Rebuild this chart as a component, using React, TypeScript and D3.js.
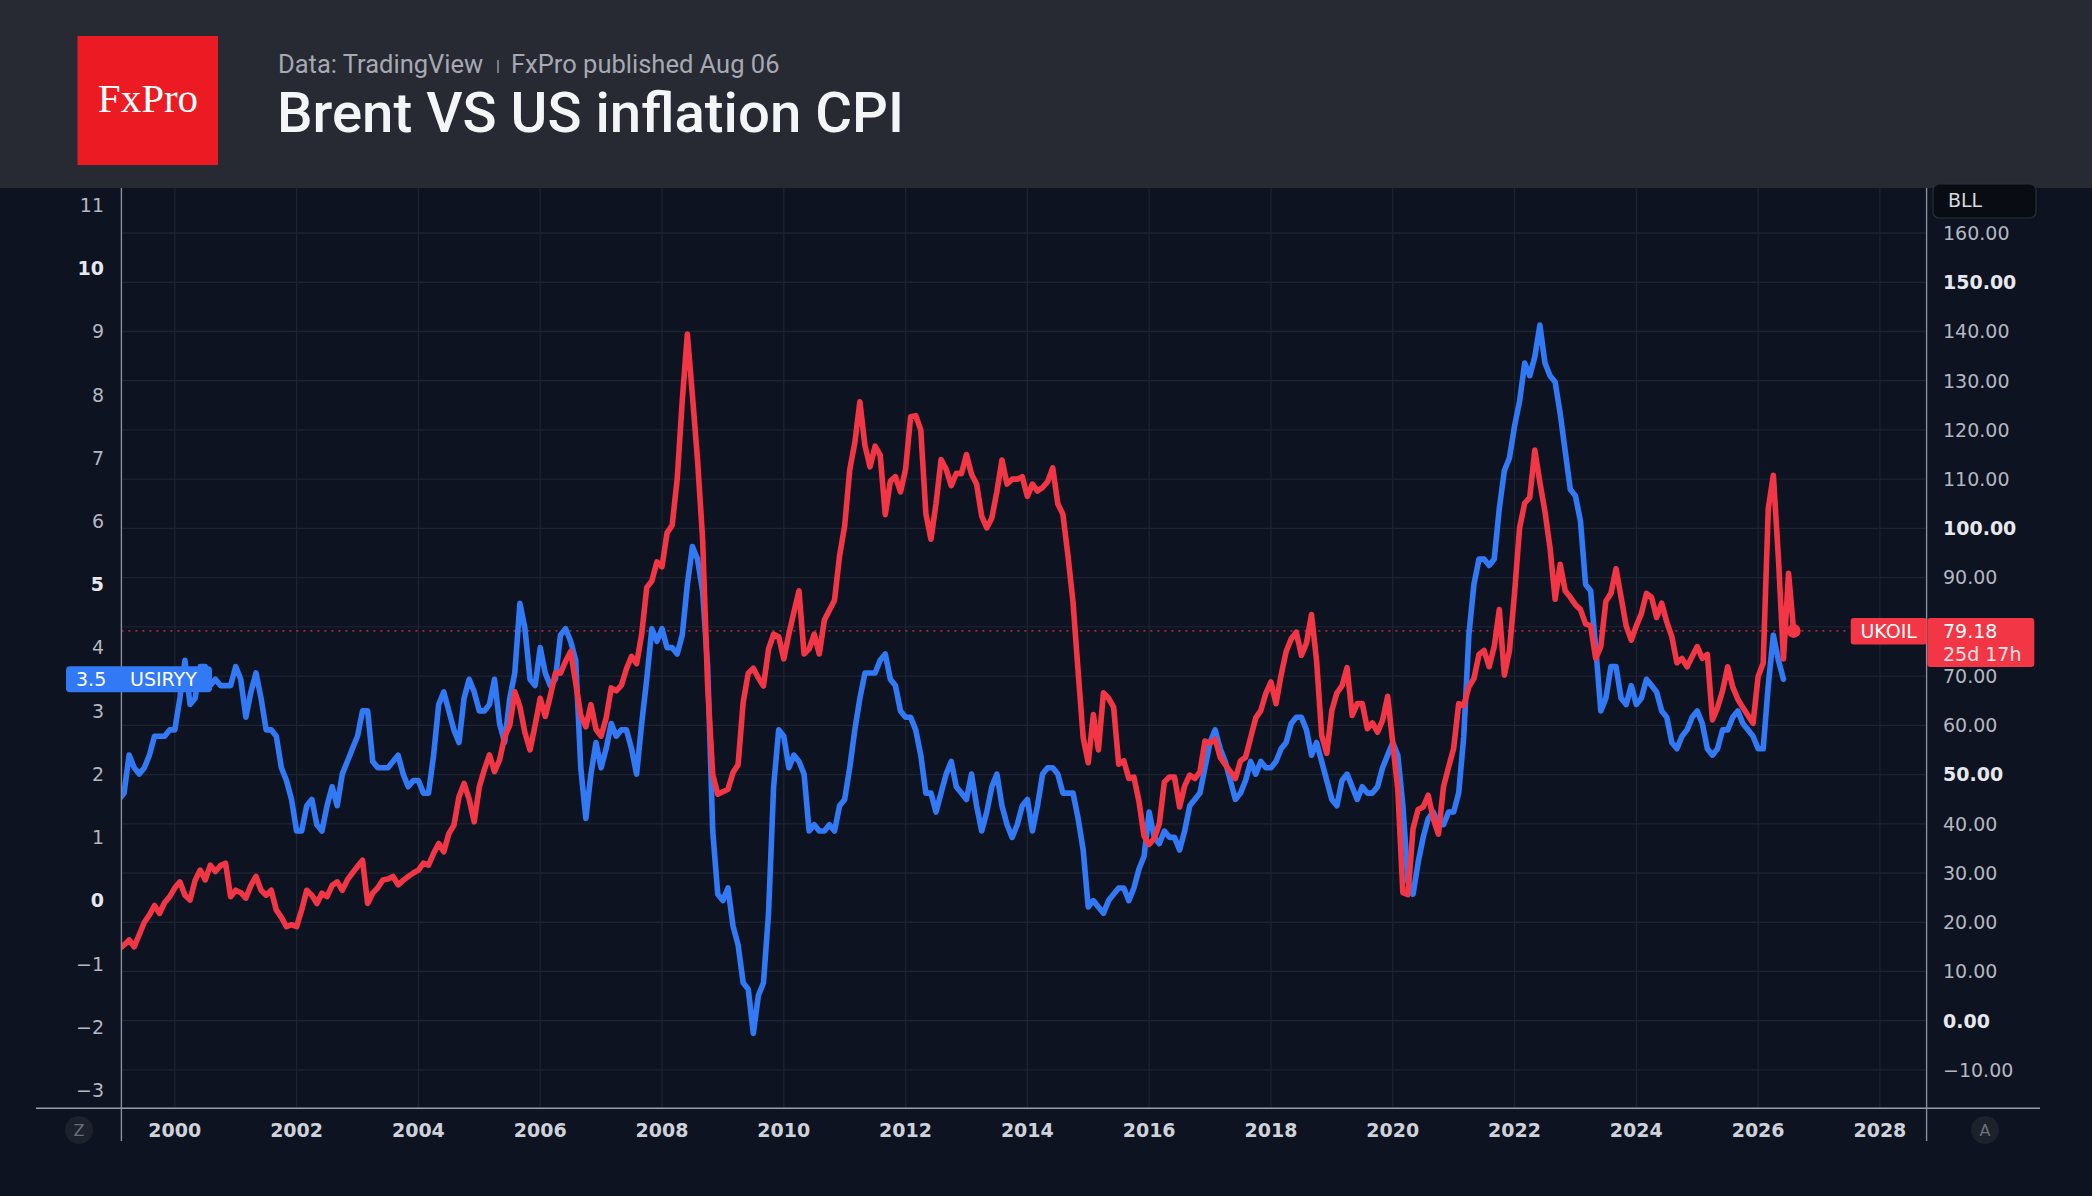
import React from "react";
import * as d3 from "d3";

// ---------- data (monthly, first value = Jan 1999) ----------
const START_YEAR = 1999;

// US CPI YoY, % (USIRYY) – Jan 1999 … Jun 2026
const usCpiYoY = [
  1.7, 1.6, 1.7, 2.3, 2.1, 2.0, 2.1, 2.3, 2.6, 2.6, 2.6, 2.7,
  2.7, 3.2, 3.8, 3.1, 3.2, 3.7, 3.7, 3.4, 3.5, 3.4, 3.4, 3.4,
  3.7, 3.5, 2.9, 3.3, 3.6, 3.2, 2.7, 2.7, 2.6, 2.1, 1.9, 1.6,
  1.1, 1.1, 1.5, 1.6, 1.2, 1.1, 1.5, 1.8, 1.5, 2.0, 2.2, 2.4,
  2.6, 3.0, 3.0, 2.2, 2.1, 2.1, 2.1, 2.2, 2.3, 2.0, 1.8, 1.9,
  1.9, 1.7, 1.7, 2.3, 3.1, 3.3, 3.0, 2.7, 2.5, 3.2, 3.5, 3.3,
  3.0, 3.0, 3.1, 3.5, 2.8, 2.5, 3.2, 3.6, 4.7, 4.3, 3.5, 3.4,
  4.0, 3.6, 3.4, 3.5, 4.2, 4.3, 4.1, 3.8, 2.1, 1.3, 2.0, 2.5,
  2.1, 2.4, 2.8, 2.6, 2.7, 2.7, 2.4, 2.0, 2.8, 3.5, 4.3, 4.1,
  4.3, 4.0, 4.0, 3.9, 4.2, 5.0, 5.6, 5.4, 4.9, 3.7, 1.1, 0.1,
  0.0, 0.2, -0.4, -0.7, -1.3, -1.4, -2.1, -1.5, -1.3, -0.2, 1.8, 2.7,
  2.6, 2.1, 2.3, 2.2, 2.0, 1.1, 1.2, 1.1, 1.1, 1.2, 1.1, 1.5,
  1.6, 2.1, 2.7, 3.2, 3.6, 3.6, 3.6, 3.8, 3.9, 3.5, 3.4, 3.0,
  2.9, 2.9, 2.7, 2.3, 1.7, 1.7, 1.4, 1.7, 2.0, 2.2, 1.8, 1.7,
  1.6, 2.0, 1.5, 1.1, 1.4, 1.8, 2.0, 1.5, 1.2, 1.0, 1.2, 1.5,
  1.6, 1.1, 1.5, 2.0, 2.1, 2.1, 2.0, 1.7, 1.7, 1.7, 1.3, 0.8,
  -0.1, 0.0, -0.1, -0.2, 0.0, 0.1, 0.2, 0.2, 0.0, 0.2, 0.5, 0.7,
  1.4, 1.0, 0.9, 1.1, 1.0, 1.0, 0.8, 1.1, 1.5, 1.6, 1.7, 2.1,
  2.5, 2.7, 2.4, 2.2, 1.9, 1.6, 1.7, 1.9, 2.2, 2.0, 2.2, 2.1,
  2.1, 2.2, 2.4, 2.5, 2.8, 2.9, 2.9, 2.7, 2.3, 2.5, 2.2, 1.9,
  1.6, 1.5, 1.9, 2.0, 1.8, 1.6, 1.8, 1.7, 1.7, 1.8, 2.1, 2.3,
  2.5, 2.3, 1.5, 0.3, 0.1, 0.6, 1.0, 1.3, 1.4, 1.2, 1.2, 1.4,
  1.4, 1.7, 2.6, 4.2, 5.0, 5.4, 5.4, 5.3, 5.4, 6.2, 6.8, 7.0,
  7.5, 7.9, 8.5, 8.3, 8.6, 9.1, 8.5, 8.3, 8.2, 7.7, 7.1, 6.5,
  6.4, 6.0, 5.0, 4.9, 4.0, 3.0, 3.2, 3.7, 3.7, 3.2, 3.1, 3.4,
  3.1, 3.2, 3.5, 3.4, 3.3, 3.0, 2.9, 2.5, 2.4, 2.6, 2.7, 2.9,
  3.0, 2.8, 2.4, 2.3, 2.4, 2.7, 2.7, 2.9, 3.0, 2.8, 2.7, 2.6,
  2.4, 2.4, 3.4, 4.2, 3.8, 3.5,
];

// Brent (UKOIL) monthly close, USD – Jan 1999 … Aug 2026
const brentClose = [
  13.0, 14.5, 15.4, 16.4, 15.0, 17.5, 20.0, 21.5, 23.4, 21.8, 24.0, 25.2,
  27.0, 28.2, 25.5, 24.5, 28.5, 30.6, 28.6, 31.6, 30.3, 31.5, 32.0, 25.2,
  26.5, 26.0, 24.9, 27.5, 29.3, 26.5, 25.5, 26.5, 22.5, 21.0, 19.1, 19.5,
  19.1, 22.5, 26.5, 25.5, 23.8, 25.9, 25.2, 27.5, 28.2, 26.5, 28.6, 30.0,
  31.3, 32.6, 23.8, 25.9, 27.0, 28.6, 28.8, 29.3, 27.6, 28.5, 29.3, 30.0,
  30.6, 32.0, 31.6, 34.0, 36.0, 34.3, 38.0, 39.7, 45.5, 48.2, 45.0, 40.4,
  47.5, 51.0, 54.0, 50.6, 53.0, 57.7, 60.0, 66.8, 63.8, 58.5, 55.0, 60.0,
  65.5, 61.8, 66.0, 70.6, 70.6, 73.0, 75.0, 68.6, 62.0, 59.7, 64.2, 59.2,
  57.8, 61.5, 67.6, 67.0, 68.1, 71.5, 74.0, 72.5, 78.5, 88.0, 89.3, 93.2,
  92.2, 99.1, 100.6, 110.0, 126.0, 139.5, 127.0, 114.0, 98.0, 68.0, 50.0, 46.0,
  46.5, 47.0, 50.4, 52.0, 64.7, 70.6, 71.6, 69.6, 68.0, 75.5, 78.5, 78.0,
  73.5, 78.5, 83.0, 87.3, 74.5, 75.5, 78.5, 74.5, 81.4, 83.4, 85.4, 94.5,
  100.5, 111.9, 117.4, 125.7, 116.8, 112.5, 116.7, 114.9, 102.8, 109.6, 110.5, 107.4,
  112.0, 122.7, 122.9, 120.0, 103.0, 97.8, 105.0, 114.0, 112.0, 108.7, 111.2, 111.1,
  115.0, 111.0, 109.0, 102.5, 100.1, 102.1, 107.5, 113.9, 109.0, 110.0, 110.0, 110.5,
  106.5, 109.0, 107.6, 108.3, 109.5, 112.3, 105.0, 102.9, 94.5, 85.0, 71.0, 57.5,
  52.4, 62.2, 55.0, 66.6, 65.5, 63.7, 52.1, 52.8, 49.2, 49.5, 44.5, 37.5,
  35.8, 37.0, 40.0, 48.5, 49.5, 49.5, 43.4, 47.7, 49.9, 49.2, 50.5, 56.8,
  56.4, 57.2, 53.5, 52.0, 50.6, 49.2, 52.8, 53.5, 57.5, 61.5, 63.0, 66.5,
  68.8, 64.4, 70.2, 75.0, 77.6, 78.9, 74.2, 76.7, 82.5, 73.0, 58.0, 54.3,
  63.0, 66.6, 68.0, 71.7, 62.0, 64.4, 64.4, 59.3, 60.5, 58.6, 61.0, 65.9,
  56.4, 47.0, 26.0, 25.6, 39.0, 42.9, 43.4, 45.8, 41.0, 37.9, 47.5, 51.5,
  55.3, 64.4, 64.0, 67.8, 69.5, 74.4, 75.2, 71.9, 76.0, 83.5, 70.2, 75.2,
  86.8, 100.1, 105.1, 106.3, 115.9, 109.3, 103.4, 96.0, 85.6, 92.7, 87.3, 86.0,
  84.5, 83.5, 80.6, 80.2, 73.6, 76.0, 85.2, 86.8, 91.8, 86.0, 80.2, 77.3,
  80.2, 82.7, 86.8, 86.0, 81.9, 84.8, 81.0, 78.0, 72.7, 73.6, 71.9, 74.0,
  76.0, 73.6, 74.4, 61.1, 63.6, 67.0, 71.9, 67.8, 65.3, 63.6, 62.0, 60.4,
  69.9, 72.6, 104.0, 110.8, 94.0, 73.5, 90.9, 79.18,
];

const leftTicks = [-3, -2, -1, 0, 1, 2, 3, 4, 5, 6, 7, 8, 9, 10, 11];
const leftBoldTicks = [0, 5, 10];
const rightTicks = [-10, 0, 10, 20, 30, 40, 50, 60, 70, 80, 90, 100, 110, 120, 130, 140, 150, 160];
const rightBoldTicks = [0, 50, 100, 150];
const yearTicks = [2000, 2002, 2004, 2006, 2008, 2010, 2012, 2014, 2016, 2018, 2020, 2022, 2024, 2026, 2028];

const brentLabel = "UKOIL";
const brentLast = 79.18;
const brentCountdown = "25d 17h";
const cpiLabel = "USIRYY";
const cpiLast = 3.5;
const rightUnit = "BLL";

const titleText = "Brent VS US inflation CPI";
const sourceText = "Data: TradingView";
const publishedText = "FxPro published Aug 06";

// ---------- styling ----------
const W = 2092;
const H = 1196;
const L = 121.4;
const R = 1926.6;
const T = 188;
const B = 1107.4;

const RED = "#f23645";
const BLUE = "#3179f5";
const AXIS_FONT = "'DejaVu Sans', sans-serif";
const HEAD_FONT = "Roboto, 'Noto Sans', sans-serif";

const fmt2 = d3.format(".2f");
const minusFix = (s: string) => s.replace("-", "\u2212");

export default function App() {
  const x = d3.scaleLinear().domain([2000, 2028]).range([174.8, 1879.9]);
  const yL = d3.scaleLinear().domain([0, 10]).range([900.6, 268.2]);
  const yR = d3.scaleLinear().domain([0, 100]).range([1020.7, 528.4]);
  const t = (i: number) => START_YEAR + i / 12;

  const cpiPath = d3
    .line<number>()
    .x((_, i) => x(t(i)))
    .y((d) => yL(d))
    .curve(d3.curveLinear)(usCpiYoY) as string;
  const brentPath = d3
    .line<number>()
    .x((_, i) => x(t(i)))
    .y((d) => yR(d))
    .curve(d3.curveLinear)(brentClose) as string;

  const lastIdx = brentClose.length - 1;
  const lastX = x(t(lastIdx));
  const lastY = yR(brentLast);
  const cpiY = yL(cpiLast);

  return (
    <div style={{ position: "absolute", left: 0, top: 0, width: W, height: H }}>
      <svg width={W} height={H} viewBox={`0 0 ${W} ${H}`} style={{ display: "block" }}>
        <defs>
          <clipPath id="plotClip">
            <rect x={L} y={T} width={R - L} height={B - T} />
          </clipPath>
        </defs>

        {/* backgrounds */}
        <rect x={0} y={0} width={W} height={H} fill="#0d1320" />
        <rect x={0} y={0} width={W} height={T} fill="#272a33" />

        {/* header */}
        <rect x={77.5} y={36} width={140.5} height={129} fill="#ec1b23" />
        <text
          x={148}
          y={112}
          textAnchor="middle"
          fill="#ffffff"
          fontFamily="'Liberation Serif', 'Times New Roman', serif"
          fontSize={41}
        >
          FxPro
        </text>
        <text x={278} y={72.5} fill="#a6a9b1" fontFamily={HEAD_FONT} fontSize={25.5}>
          {sourceText}
        </text>
        <line x1={498} x2={498} y1={60} y2={73} stroke="#8d9099" strokeWidth={1.6} />
        <text x={511} y={72.5} fill="#a6a9b1" fontFamily={HEAD_FONT} fontSize={25.5}>
          {publishedText}
        </text>
        <text x={277} y={131.5} fill="#f4f5f7" fontFamily={HEAD_FONT} fontWeight={500} fontSize={56.3}>
          {titleText}
        </text>

        {/* grid */}
        <g stroke="#1d2330" strokeWidth={1.3}>
          {rightTicks.map((v) => (
            <line key={`h${v}`} x1={L} x2={R} y1={yR(v)} y2={yR(v)} />
          ))}
          {yearTicks.map((yr) => (
            <line key={`v${yr}`} x1={x(yr)} x2={x(yr)} y1={T} y2={B} />
          ))}
        </g>

        {/* last-price dotted line */}
        <line
          x1={L}
          x2={1850}
          y1={lastY}
          y2={lastY}
          stroke={RED}
          strokeOpacity={0.65}
          strokeWidth={1.6}
          strokeDasharray="2 5"
        />

        {/* series */}
        <g clipPath="url(#plotClip)" fill="none" strokeLinejoin="round" strokeLinecap="round">
          <path d={cpiPath} stroke={BLUE} strokeWidth={5.6} />
          <path d={brentPath} stroke={RED} strokeWidth={5.6} />
          <circle cx={lastX} cy={lastY} r={7} fill={RED} />
        </g>

        {/* axes lines */}
        <line x1={36} x2={2040} y1={B + 0.8} y2={B + 0.8} stroke="#9a9ea8" strokeWidth={1.6} />
        <line x1={L} x2={L} y1={T} y2={1141} stroke="#8a8e98" strokeWidth={1.4} />
        <line x1={R} x2={R} y1={T} y2={1141} stroke="#8a8e98" strokeWidth={1.4} />

        {/* left axis labels */}
        <g fontFamily={AXIS_FONT} fontSize={19} textAnchor="end">
          {leftTicks.map((v) => {
            const bold = leftBoldTicks.includes(v);
            return (
              <text
                key={`l${v}`}
                x={104}
                y={yL(v)}
                dy="0.36em"
                fill={bold ? "#e6e8ee" : "#b4b7c0"}
                fontWeight={bold ? 700 : 400}
              >
                {minusFix(String(v))}
              </text>
            );
          })}
        </g>

        {/* right axis labels */}
        <g fontFamily={AXIS_FONT} fontSize={19}>
          {rightTicks.map((v) => {
            const bold = rightBoldTicks.includes(v);
            return (
              <text
                key={`r${v}`}
                x={1943}
                y={yR(v)}
                dy="0.36em"
                fill={bold ? "#e6e8ee" : "#b4b7c0"}
                fontWeight={bold ? 700 : 400}
              >
                {minusFix(fmt2(v))}
              </text>
            );
          })}
        </g>

        {/* year labels */}
        <g fontFamily={AXIS_FONT} fontSize={19} fontWeight={700} fill="#cfd2da" textAnchor="middle">
          {yearTicks.map((yr) => (
            <text key={`y${yr}`} x={x(yr)} y={1130} dy="0.36em">
              {yr}
            </text>
          ))}
        </g>

        {/* corner buttons */}
        <circle cx={79} cy={1130} r={14} fill="#1c212b" />
        <text x={79} y={1130} dy="0.36em" textAnchor="middle" fontFamily={AXIS_FONT} fontSize={16} fill="#6b6f7a">
          Z
        </text>
        <circle cx={1985} cy={1130} r={14} fill="#1c212b" />
        <text x={1985} y={1130} dy="0.36em" textAnchor="middle" fontFamily={AXIS_FONT} fontSize={16} fill="#6b6f7a">
          A
        </text>

        {/* BLL unit box */}
        <rect x={1933} y={184} width={103} height={34} rx={6} fill="#090c12" stroke="#2a2f3a" strokeWidth={1.2} />
        <text x={1948} y={207} fontFamily={AXIS_FONT} fontSize={19} fill="#d6d8de">
          {rightUnit}
        </text>

        {/* USIRYY label */}
        <rect x={66} y={cpiY - 13} width={146} height={26} rx={4} fill={BLUE} />
        <text x={76} y={cpiY} dy="0.36em" fontFamily={AXIS_FONT} fontSize={19} fill="#ffffff">
          {cpiLast}
        </text>
        <text x={130} y={cpiY} dy="0.36em" fontFamily={AXIS_FONT} fontSize={19} fill="#ffffff">
          {cpiLabel}
        </text>

        {/* UKOIL label */}
        <rect x={1850.7} y={lastY - 13} width={76} height={26.5} rx={3} fill={RED} />
        <text x={1888.7} y={lastY} dy="0.36em" textAnchor="middle" fontFamily={AXIS_FONT} fontSize={19} fill="#ffffff">
          {brentLabel}
        </text>
        <rect x={1927.3} y={lastY - 13} width={107} height={49} rx={3} fill={RED} />
        <text x={1943} y={lastY} dy="0.36em" fontFamily={AXIS_FONT} fontSize={19} fill="#ffffff">
          {fmt2(brentLast)}
        </text>
        <text x={1943} y={lastY + 23} dy="0.36em" fontFamily={AXIS_FONT} fontSize={19} fill="#ffe3e5">
          {brentCountdown}
        </text>
      </svg>
    </div>
  );
}
